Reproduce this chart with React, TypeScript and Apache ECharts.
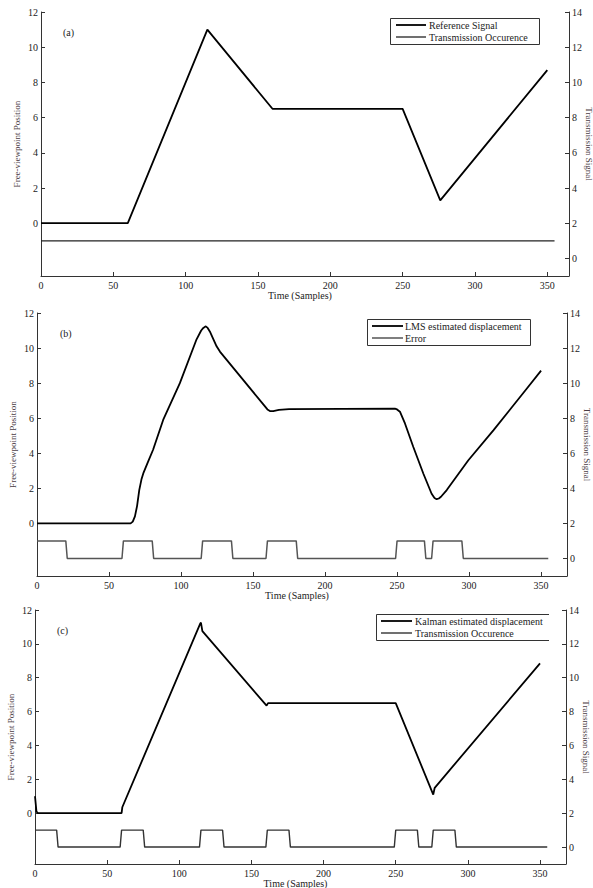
import React, { useEffect, useRef } from "react";
import * as echarts from "echarts";

// ---------- data ----------
const X_TICKS = [0, 50, 100, 150, 200, 250, 300, 350];
const LEFT_TICKS = [0, 2, 4, 6, 8, 10, 12];
const RIGHT_TICKS = [0, 2, 4, 6, 8, 10, 12, 14];

const refSignal = [
  [0, 0], [60, 0], [115, 11], [160, 6.5], [250, 6.5], [276, 1.3], [350, 8.7],
];
const transmissionA = [
  [0, 1], [355, 1],
];

const lmsEstimate = [
  [0, 0], [65, 0], [66.5, 0.1], [68, 0.4], [69.5, 1.0], [71, 1.9], [72.5, 2.5], [74, 2.9],
  [77, 3.5], [80.6, 4.2], [87.6, 5.9], [99.2, 8.0], [110.8, 10.5], [114, 11.0],
  [115.5, 11.15], [117.2, 11.24], [118.5, 11.15], [120, 10.95], [122.5, 10.5],
  [124.7, 10.1], [127, 9.8], [140, 8.5], [150, 7.5], [157, 6.8], [160, 6.5], [162, 6.4],
  [164, 6.4], [168, 6.47], [175, 6.52], [248.5, 6.55], [250, 6.5], [252, 6.37],
  [255.5, 5.7], [261.3, 4.36], [268.3, 2.83], [274, 1.69], [276, 1.45], [277.5, 1.38],
  [279, 1.42], [280.5, 1.52], [284.5, 1.9], [299.5, 3.6], [317, 5.32], [330, 6.65],
  [340, 7.68], [350, 8.71],
];
const errorB = [
  [0, 1], [20, 1], [21, 0], [59, 0], [60, 1], [80, 1], [81, 0], [114, 0], [115, 1],
  [135, 1], [136, 0], [159, 0], [160, 1], [180, 1], [181, 0], [249, 0], [250, 1],
  [269, 1], [270, 0], [274, 0], [275, 1], [295, 1], [296, 0], [355, 0],
];

const kalmanEstimate = [
  [0, 1], [1, 0.1], [2, 0], [60, 0], [60.5, 0.35], [114.5, 11.2], [115, 11.25],
  [115.5, 11.0], [116, 10.75], [160.5, 6.35], [161.5, 6.5], [250, 6.5], [276, 1.1],
  [277, 1.5], [350, 8.85],
];
const transmissionC = [
  [0, 1], [15, 1], [16, 0], [59, 0], [60, 1], [75, 1], [76, 0], [114, 0], [115, 1],
  [130, 1], [131, 0], [160, 0], [161, 1], [176, 1], [177, 0], [249, 0], [250, 1],
  [265, 1], [266, 0], [275, 0], [276, 1], [291, 1], [292, 0], [355, 0],
];

const PANEL_LABELS = ["(a)", "(b)", "(c)"];
const LEGEND_NAMES = [
  ["Reference Signal", "Transmission Occurence"],
  ["LMS estimated displacement", "Error"],
  ["Kalman estimated displacement", "Transmission Occurence"],
];
const X_NAME = "Time (Samples)";
const LEFT_NAME = "Free-viewpoint Position";
const RIGHT_NAME = "Transmission Signal";

// ---------- layout ----------
const FONT = '"Liberation Serif", "Times New Roman", serif';
const W = 593;
const H = 888;

const layout = [
  { left: 41, right: 24, top: 12, height: 264, xMax: 365, labelX: 63, labelY: 33,
    box: { x: 390, y: 18, w: 149, h: 26, closed: true }, lineX: [396, 426], textX: 429, rows: [25, 37],
    secondColor: "#222", secondWidth: 1.3 },
  { left: 37, right: 26, top: 313, height: 263, xMax: 368, labelX: 60, labelY: 334,
    box: { x: 367, y: 319, w: 163, h: 26, closed: true }, lineX: [372, 403], textX: 405, rows: [326, 338],
    secondColor: "#555", secondWidth: 1.5 },
  { left: 35, right: 27, top: 610, height: 254, xMax: 368, labelX: 57, labelY: 631,
    box: { x: 376, y: 614, w: 173, h: 26, closed: false }, lineX: [381, 412], textX: 415, rows: [621, 633],
    secondColor: "#333", secondWidth: 1.4 },
];

const mainData = [refSignal, lmsEstimate, kalmanEstimate];
const secondData = [transmissionA, errorB, transmissionC];

export default function App() {
  const ref = useRef<HTMLDivElement>(null);

  useEffect(() => {
    if (!ref.current) return;
    const chart = echarts.init(ref.current, undefined, { renderer: "svg" });

    const grids: any[] = [];
    const xAxes: any[] = [];
    const yAxes: any[] = [];
    const series: any[] = [];
    const graphics: any[] = [];

    const axisLineStyle = { color: "#333", width: 1 };
    const labelStyle = { color: "#222", fontSize: 10, fontFamily: FONT };

    layout.forEach((p, i) => {
      grids.push({
        left: p.left, right: p.right, top: p.top, height: p.height,
        containLabel: false, outerBoundsMode: "none",
      });
      xAxes.push({
        type: "value", gridIndex: i, min: 0, max: p.xMax,
        name: X_NAME, nameLocation: "middle", nameGap: 14, nameMoveOverlap: false,
        nameTextStyle: { color: "#222", fontSize: 10, fontFamily: FONT, padding: [0, 10, 0, 0] },
        axisLine: { show: true, onZero: false, lineStyle: axisLineStyle },
        axisTick: { show: true, inside: true, length: 4, customValues: X_TICKS, lineStyle: axisLineStyle },
        axisLabel: { ...labelStyle, margin: 4, customValues: X_TICKS },
        splitLine: { show: false },
      });
      yAxes.push({
        type: "value", gridIndex: i, min: -3, max: 12, position: "left",
        name: LEFT_NAME, nameLocation: "middle", nameGap: 20, nameMoveOverlap: false,
        nameTextStyle: { color: "#4a3c44", fontSize: 9, fontFamily: FONT },
        axisLine: { show: true, onZero: false, lineStyle: axisLineStyle },
        axisTick: { show: true, inside: true, length: 4, customValues: LEFT_TICKS, lineStyle: axisLineStyle },
        axisLabel: { ...labelStyle, margin: 3, customValues: LEFT_TICKS },
        splitLine: { show: false },
      });
      yAxes.push({
        type: "value", gridIndex: i, min: -1, max: 14, position: "right",
        name: RIGHT_NAME, nameLocation: "middle", nameGap: 15, nameRotate: -90, nameMoveOverlap: false,
        nameTextStyle: { color: "#4a3c44", fontSize: 9, fontFamily: FONT },
        axisLine: { show: true, onZero: false, lineStyle: axisLineStyle },
        axisTick: { show: true, inside: true, length: 4, customValues: RIGHT_TICKS, lineStyle: axisLineStyle },
        axisLabel: { ...labelStyle, margin: 3, customValues: RIGHT_TICKS },
        splitLine: { show: false },
      });

      series.push({
        type: "line", name: LEGEND_NAMES[i][0], xAxisIndex: i, yAxisIndex: i * 2,
        data: mainData[i], showSymbol: false, symbol: "none",
        lineStyle: { color: "#000", width: 1.8 }, z: 3,
      });
      series.push({
        type: "line", name: LEGEND_NAMES[i][1], xAxisIndex: i, yAxisIndex: i * 2 + 1,
        data: secondData[i], showSymbol: false, symbol: "none",
        lineStyle: { color: p.secondColor, width: p.secondWidth }, z: 2,
      });

      graphics.push({
        type: "text", left: p.labelX, top: p.labelY - 6,
        style: { text: PANEL_LABELS[i], fill: "#222", fontSize: 10, fontFamily: FONT },
      });
      const b = p.box;
      if (b.closed) {
        graphics.push({
          type: "rect", shape: { x: b.x + 0.5, y: b.y + 0.5, width: b.w, height: b.h },
          style: { fill: "#fff", stroke: "#333", lineWidth: 1 }, z: 10,
        });
      } else {
        graphics.push({
          type: "rect", shape: { x: b.x + 0.5, y: b.y + 0.5, width: b.w, height: b.h },
          style: { fill: "#fff", stroke: null }, z: 10,
        });
        graphics.push({
          type: "polyline",
          shape: { points: [[b.x + b.w, b.y + 0.5], [b.x + 0.5, b.y + 0.5], [b.x + 0.5, b.y + b.h + 0.5], [b.x + b.w, b.y + b.h + 0.5]] },
          style: { fill: null, stroke: "#333", lineWidth: 1 }, z: 11,
        });
      }
      p.rows.forEach((ry, k) => {
        graphics.push({
          type: "line", shape: { x1: p.lineX[0], y1: ry, x2: p.lineX[1], y2: ry },
          style: { stroke: k === 0 ? "#000" : p.secondColor, lineWidth: k === 0 ? 1.8 : p.secondWidth }, z: 12,
        });
        graphics.push({
          type: "text", x: p.textX, y: ry,
          style: { text: LEGEND_NAMES[i][k], fill: "#222", fontSize: 10, fontFamily: FONT, verticalAlign: "middle", align: "left" },
          z: 12,
        });
      });
    });

    chart.setOption({
      animation: false,
      backgroundColor: "#fff",
      textStyle: { fontFamily: FONT },
      grid: grids,
      xAxis: xAxes,
      yAxis: yAxes,
      series,
      graphic: graphics,
    });

    return () => chart.dispose();
  }, []);

  return (
    <div
      ref={ref}
      style={{ position: "fixed", left: 0, top: 0, width: W, height: H, background: "#fff" }}
    />
  );
}
